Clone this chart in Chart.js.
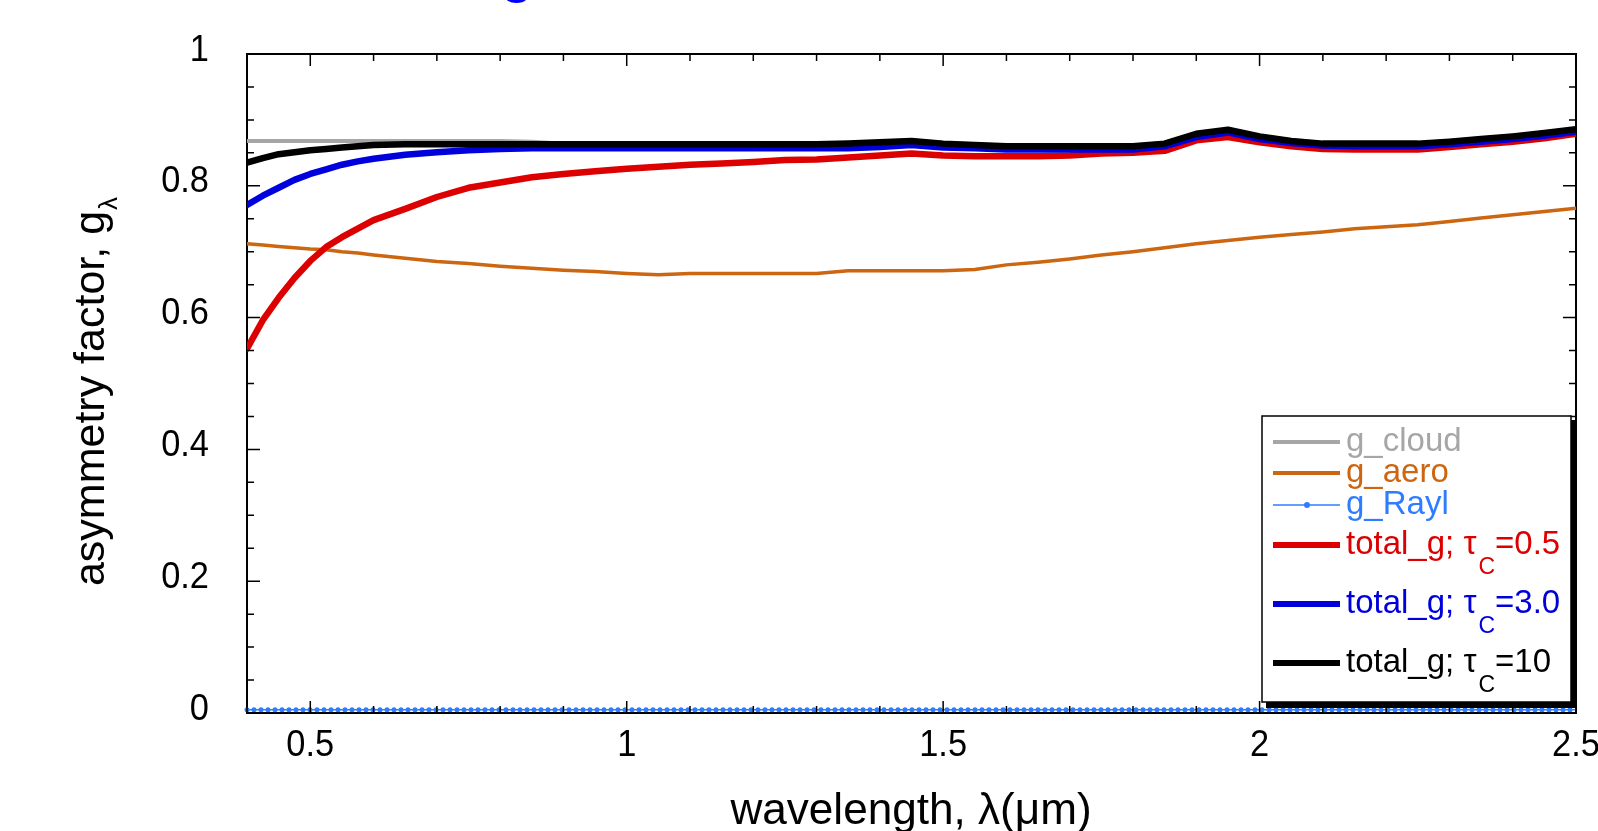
<!DOCTYPE html>
<html>
<head>
<meta charset="utf-8">
<script src="https://cdn.jsdelivr.net/npm/chart.js@4.4.1/dist/chart.umd.min.js"></script>
<style>
  html, body { margin: 0; padding: 0; background: #fff; overflow: hidden; }
  canvas { display: block; }
</style>
</head>
<body>
<canvas id="chart" width="1598" height="831"></canvas>
<script>
// wavelength grid (um) shared by the read-off curves
const wavelength = [0.4, 0.425, 0.45, 0.475, 0.5, 0.525, 0.55, 0.575, 0.6, 0.65, 0.7, 0.75, 0.8, 0.85, 0.9, 0.95,
  1.0, 1.05, 1.1, 1.15, 1.2, 1.25, 1.3, 1.35, 1.4, 1.45, 1.5, 1.55, 1.6, 1.65, 1.7, 1.75, 1.8, 1.85, 1.9, 1.95,
  2.0, 2.05, 2.1, 2.15, 2.2, 2.25, 2.3, 2.35, 2.4, 2.45, 2.5];

const gCloud = [0.868, 0.868, 0.868, 0.868, 0.868, 0.868, 0.868, 0.868, 0.868, 0.868, 0.868, 0.868, 0.868, 0.867, 0.864, 0.864,
  0.864, 0.864, 0.864, 0.864, 0.864, 0.864, 0.864, 0.865, 0.867, 0.869, 0.865, 0.863, 0.861, 0.861, 0.861, 0.861, 0.861, 0.865, 0.879, 0.886,
  0.876, 0.869, 0.865, 0.865, 0.865, 0.865, 0.868, 0.872, 0.876, 0.881, 0.887];

const gAero = [0.712, 0.710, 0.708, 0.706, 0.704, 0.703, 0.700, 0.698, 0.695, 0.690, 0.685, 0.682, 0.678, 0.675, 0.672, 0.670,
  0.667, 0.665, 0.667, 0.667, 0.667, 0.667, 0.667, 0.671, 0.671, 0.671, 0.671, 0.673, 0.680, 0.684, 0.689, 0.695, 0.700, 0.706, 0.712, 0.717,
  0.722, 0.726, 0.730, 0.735, 0.738, 0.741, 0.746, 0.751, 0.756, 0.761, 0.766];

const raylWavelength = [0.4, 1.0, 1.5, 2.0, 2.5];
const gRayl = [0.005, 0.005, 0.005, 0.005, 0.005];

const totalTau05 = [0.553, 0.596, 0.630, 0.660, 0.686, 0.707, 0.722, 0.735, 0.748, 0.765, 0.783, 0.797, 0.805, 0.813, 0.818, 0.822,
  0.826, 0.829, 0.832, 0.834, 0.836, 0.839, 0.840, 0.843, 0.846, 0.849, 0.846, 0.845, 0.845, 0.845, 0.846, 0.849, 0.850, 0.853, 0.869, 0.874,
  0.866, 0.860, 0.856, 0.855, 0.855, 0.855, 0.859, 0.863, 0.867, 0.872, 0.879];

const totalTau3 = [0.771, 0.785, 0.797, 0.809, 0.818, 0.825, 0.832, 0.837, 0.841, 0.847, 0.851, 0.854, 0.856, 0.857, 0.857, 0.857,
  0.857, 0.857, 0.857, 0.857, 0.857, 0.857, 0.857, 0.857, 0.859, 0.862, 0.858, 0.857, 0.855, 0.855, 0.855, 0.855, 0.855, 0.860, 0.874, 0.881,
  0.871, 0.865, 0.861, 0.860, 0.860, 0.860, 0.863, 0.867, 0.871, 0.876, 0.882];

const totalTau10 = [0.835, 0.842, 0.848, 0.851, 0.854, 0.856, 0.858, 0.860, 0.862, 0.863, 0.863, 0.863, 0.863, 0.863, 0.863, 0.863,
  0.863, 0.863, 0.863, 0.863, 0.863, 0.863, 0.863, 0.864, 0.866, 0.868, 0.864, 0.862, 0.860, 0.860, 0.860, 0.860, 0.860, 0.864, 0.879, 0.885,
  0.875, 0.868, 0.864, 0.864, 0.864, 0.864, 0.867, 0.871, 0.875, 0.880, 0.886];

// axis ticks
const xTickValues = [0.5, 1, 1.5, 2, 2.5];
const xTickLabels = ['0.5', '1', '1.5', '2', '2.5'];
const yTickValues = [0, 0.2, 0.4, 0.6, 0.8, 1];
const yTickLabels = ['0', '0.2', '0.4', '0.6', '0.8', '1'];
const xMinorTicks = [0.4, 0.6, 0.7, 0.8, 0.9, 1.1, 1.2, 1.3, 1.4, 1.6, 1.7, 1.8, 1.9, 2.1, 2.2, 2.3, 2.4];
const yMinorTicks = [0.05, 0.1, 0.15, 0.25, 0.3, 0.35, 0.45, 0.5, 0.55, 0.65, 0.7, 0.75, 0.85, 0.9, 0.95];

const COLORS = {
  cloud: '#a6a6a6',
  aero: '#cc6611',
  rayl: '#2f7dff',
  tau05: '#dd0000',
  tau3: '#0000dd',
  tau10: '#000000'
};

const FONT = '"Liberation Sans", Arial, Helvetica, sans-serif';

function pts(xs, ys) {
  return xs.map((x, i) => ({ x: x, y: ys[i] }));
}

function lineSet(label, data, color, width, order) {
  return {
    label, data, order,
    borderColor: color,
    backgroundColor: color,
    borderWidth: width,
    pointRadius: 0,
    tension: 0,
    borderJoinStyle: 'round',
    borderCapStyle: 'round',
    fill: false
  };
}

const datasets = [
  lineSet('total_g; tau=10', pts(wavelength, totalTau10), COLORS.tau10, 6.5, 0),
  lineSet('total_g; tau=3.0', pts(wavelength, totalTau3), COLORS.tau3, 6.5, 1),
  lineSet('total_g; tau=0.5', pts(wavelength, totalTau05), COLORS.tau05, 6.5, 2),
  Object.assign(lineSet('g_Rayl dots', pts(raylWavelength, gRayl), COLORS.rayl, 5, 3), { borderDash: [0, 7], clip: 8 }),
  lineSet('g_Rayl', pts(raylWavelength, gRayl), COLORS.rayl, 1.5, 4),
  lineSet('g_aero', pts(wavelength, gAero), COLORS.aero, 3.5, 5),
  lineSet('g_cloud', pts(wavelength, gCloud), COLORS.cloud, 4, 6)
];

const legendRows = [
  { color: COLORS.cloud, width: 4, text: 'g_cloud', y: 442 },
  { color: COLORS.aero, width: 4, text: 'g_aero', y: 473 },
  { color: COLORS.rayl, width: 1.5, text: 'g_Rayl', y: 505, dot: true },
  { color: COLORS.tau05, width: 6, text: 'total_g; \u03c4', sub: 'C', tail: '=0.5', y: 545 },
  { color: COLORS.tau3, width: 6, text: 'total_g; \u03c4', sub: 'C', tail: '=3.0', y: 604 },
  { color: COLORS.tau10, width: 6, text: 'total_g; \u03c4', sub: 'C', tail: '=10', y: 663 }
];

// text squeezed horizontally a little, like the original's condensed font
function squeezed(ctx, text, x, y, sx) {
  ctx.save();
  ctx.translate(x, y);
  ctx.scale(sx, 1);
  ctx.fillText(text, 0, 0);
  ctx.restore();
}

const framePlugin = {
  id: 'frame',
  beforeDatasetsDraw(chart) {
    // frame goes under the curves so the Rayleigh dots sit on the axis
    const { ctx, chartArea: a } = chart;
    ctx.save();
    ctx.strokeStyle = '#000';
    ctx.lineWidth = 2;
    ctx.strokeRect(a.left, a.top, a.right - a.left, a.bottom - a.top);
    ctx.restore();
  },
  afterDatasetsDraw(chart) {
    const { ctx, chartArea: a, scales: { x, y } } = chart;
    ctx.save();

    // inward ticks on all four sides
    ctx.strokeStyle = '#000';
    ctx.lineWidth = 1.5;
    ctx.beginPath();
    const xTick = (v, len) => {
      const px = x.getPixelForValue(v);
      ctx.moveTo(px, a.bottom); ctx.lineTo(px, a.bottom - len);
      ctx.moveTo(px, a.top); ctx.lineTo(px, a.top + len);
    };
    const yTick = (v, len) => {
      const py = y.getPixelForValue(v);
      ctx.moveTo(a.left, py); ctx.lineTo(a.left + len, py);
      ctx.moveTo(a.right, py); ctx.lineTo(a.right - len, py);
    };
    xTickValues.forEach(v => xTick(v, 12));
    xMinorTicks.forEach(v => xTick(v, 7));
    yTickValues.forEach(v => yTick(v, 13));
    yMinorTicks.forEach(v => yTick(v, 7));
    ctx.stroke();

    // tick labels
    ctx.fillStyle = '#000';
    ctx.font = '37px ' + FONT;
    ctx.textBaseline = 'alphabetic';
    ctx.textAlign = 'center';
    xTickValues.forEach((v, i) => squeezed(ctx, xTickLabels[i], x.getPixelForValue(v), 756, 0.93));
    ctx.textAlign = 'right';
    yTickValues.forEach((v, i) => squeezed(ctx, yTickLabels[i], 209, y.getPixelForValue(v) + 6.5, 0.93));

    // axis titles
    ctx.font = '45px ' + FONT;
    ctx.textAlign = 'center';
    squeezed(ctx, 'wavelength, \u03bb(\u03bcm)', 911, 824, 0.98);

    ctx.save();
    ctx.translate(104, 392);
    ctx.rotate(-Math.PI / 2);
    ctx.textAlign = 'left';
    const main = 'asymmetry factor, g';
    ctx.font = '43px ' + FONT;
    const w = ctx.measureText(main).width;
    ctx.font = '26px ' + FONT;
    const ws = ctx.measureText('\u03bb').width;
    const start = -(w + ws) / 2;
    ctx.font = '43px ' + FONT;
    ctx.fillText(main, start, 0);
    ctx.font = '26px ' + FONT;
    ctx.fillText('\u03bb', start + w + 1, 13);
    ctx.restore();

    // clipped blue title glyph at the very top
    ctx.fillStyle = '#0000ff';
    ctx.font = '60px ' + FONT;
    ctx.textAlign = 'center';
    ctx.fillText('g', 517, -9);

    // legend box with drop shadow
    const L = 1262, T = 416, R = 1571, B = 702;
    ctx.fillStyle = '#fff';
    ctx.fillRect(L, T, R - L, B - T);
    ctx.fillStyle = '#000';
    ctx.fillRect(R, T + 4, 6, B - T + 2);
    ctx.fillRect(L + 4, B, R - L + 2, 6);
    ctx.strokeStyle = '#000';
    ctx.lineWidth = 1.5;
    ctx.strokeRect(L, T, R - L, B - T);

    legendRows.forEach(r => {
      ctx.strokeStyle = r.color;
      ctx.lineWidth = r.width;
      ctx.lineCap = 'butt';
      ctx.beginPath();
      ctx.moveTo(1273, r.y); ctx.lineTo(1340, r.y);
      ctx.stroke();
      ctx.fillStyle = r.color;
      ctx.beginPath();
      ctx.arc(1307, r.y, r.dot ? 3 : 1.5, 0, Math.PI * 2);
      ctx.fill();

      ctx.font = '33px ' + FONT;
      ctx.textAlign = 'left';
      ctx.textBaseline = 'middle';
      ctx.fillText(r.text, 1346, r.y);
      if (r.sub) {
        const tw = ctx.measureText(r.text).width;
        ctx.font = '23px ' + FONT;
        ctx.fillText(r.sub, 1346 + tw + 2, r.y + 23);
        const sw = ctx.measureText(r.sub).width;
        ctx.font = '33px ' + FONT;
        ctx.fillText(r.tail, 1346 + tw + sw + 2, r.y);
      }
    });

    ctx.restore();
  }
};

new Chart(document.getElementById('chart'), {
  type: 'line',
  data: { datasets },
  options: {
    responsive: false,
    animation: false,
    devicePixelRatio: 1,
    layout: { padding: { left: 247, right: 22, top: 54, bottom: 118 } },
    plugins: { legend: { display: false }, tooltip: { enabled: false } },
    scales: {
      x: { type: 'linear', min: 0.4, max: 2.5, display: false },
      y: { type: 'linear', min: 0, max: 1, display: false }
    }
  },
  plugins: [framePlugin]
});
</script>
</body>
</html>
